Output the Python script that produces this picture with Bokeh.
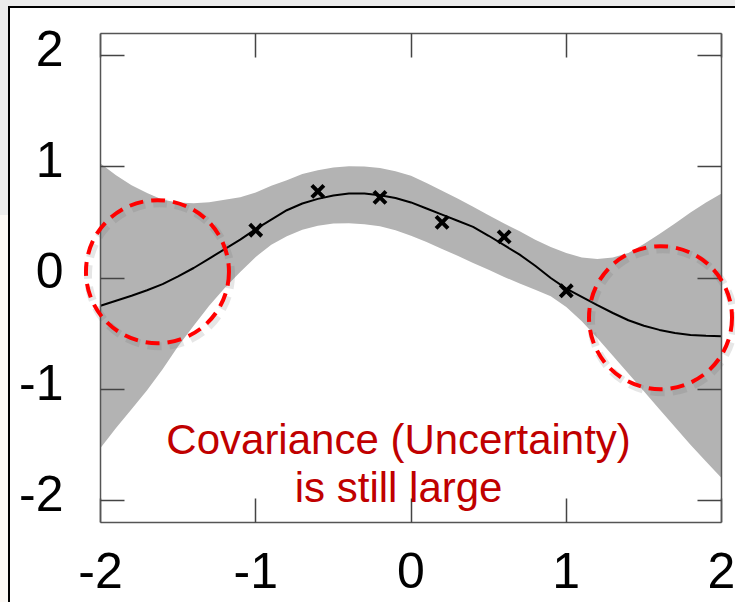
import numpy as np
from bokeh.plotting import figure
from bokeh.models import FixedTicker, LinearAxis, Label, Range1d
from bokeh.embed import file_html
from bokeh.resources import INLINE

# ---- data ----
x_grid = [-2.0, -1.9, -1.8, -1.7, -1.6, -1.5, -1.4, -1.3, -1.2, -1.1, -1.0,
          -0.9, -0.8, -0.7, -0.6, -0.5, -0.4, -0.3, -0.2, -0.1, 0.0,
          0.1, 0.2, 0.3, 0.4, 0.5, 0.6, 0.7, 0.8, 0.9, 1.0,
          1.1, 1.2, 1.3, 1.4, 1.5, 1.6, 1.7, 1.8, 1.9, 2.0]
mean = [-0.25, -0.205, -0.16, -0.11, -0.055, 0.015, 0.09, 0.175, 0.26, 0.345, 0.44,
        0.525, 0.61, 0.67, 0.712, 0.743, 0.76, 0.76, 0.745, 0.72, 0.68,
        0.625, 0.57, 0.515, 0.46, 0.38, 0.295, 0.21, 0.11, 0.0, -0.095,
        -0.17, -0.245, -0.315, -0.38, -0.43, -0.467, -0.495, -0.512, -0.52, -0.524]
upper = [1.03, 0.925, 0.835, 0.765, 0.705, 0.68, 0.672, 0.682, 0.705, 0.727, 0.77,
         0.83, 0.88, 0.935, 0.97, 0.995, 1.006, 1.003, 0.99, 0.96, 0.92,
         0.855, 0.785, 0.715, 0.64, 0.565, 0.49, 0.42, 0.345, 0.28, 0.225,
         0.185, 0.17, 0.185, 0.225, 0.305, 0.395, 0.49, 0.59, 0.68, 0.76]
lower = [-1.53, -1.35, -1.18, -1.01, -0.82, -0.615, -0.43, -0.25, -0.09, 0.055, 0.19,
         0.30, 0.375, 0.435, 0.47, 0.49, 0.493, 0.483, 0.465, 0.43, 0.38,
         0.325, 0.262, 0.20, 0.135, 0.075, 0.01, -0.05, -0.105, -0.165, -0.26,
         -0.39, -0.54, -0.70, -0.86, -1.02, -1.18, -1.34, -1.50, -1.65, -1.80]

obs_x = [-1.0, -0.6, -0.2, 0.2, 0.6, 1.0]
obs_y = [0.43, 0.78, 0.725, 0.50, 0.37, -0.115]

x_ticks = [-2, -1, 0, 1, 2]
y_ticks = [-2, -1, 0, 1, 2]
tick_text = {-2: "-2", -1: "-1", 0: "0", 1: "1", 2: "2"}

note_line1 = "Covariance (Uncertainty)"
note_line2 = "is still large"

# highlighted regions (data units): centre x, centre y
circle_x = [-1.633, 1.607]
circle_y = [0.057, -0.357]
circle_r_px = 71.5

# ---- figure ----
W, H = 735, 602
bg = ("linear-gradient(#000,#000) 8px 6px / 727px 2px no-repeat, "
      "linear-gradient(#000,#000) 8px 6px / 2px 596px no-repeat, "
      "linear-gradient(#fff,#fff) 10px 8px / 725px 594px no-repeat, "
      "linear-gradient(to bottom, #ececec 215px, #fcf9f5 215px)")

# the plotting area reaches a little past x = -2 and x = 2 so that the
# dashed circles may spill over the drawn frame as in the reference
p = figure(width=W, height=H, output_backend="svg", toolbar_location=None,
           x_range=Range1d(-2.103, 2.090), y_range=Range1d(-2.2, 2.2),
           min_border_left=84, min_border_right=0, min_border_top=33,
           min_border_bottom=80, title=None)
p.styles = {"background": bg}
p.border_fill_color = None
p.background_fill_color = None
p.outline_line_color = None
p.grid.visible = False
# labels of the y axis sit slightly high in the reference (font metrics)
p.extra_y_ranges = {"labels": Range1d(-2.2 - 0.063, 2.2 - 0.063)}

tick_font = "Liberation Sans"
frame_col = "#555555"


def style_ticks(ax):
    ax.major_tick_in = 24
    ax.major_tick_out = 0
    ax.minor_tick_line_color = None
    ax.major_tick_line_color = "#444444"
    ax.major_tick_line_width = 1.5
    ax.axis_line_color = frame_col
    ax.axis_line_width = 1.5


# bottom axis: ticks, frame line and labels
xb = p.xaxis[0]
xb.ticker = FixedTicker(ticks=x_ticks)
xb.bounds = (-2, 2)
style_ticks(xb)
xb.major_label_text_font = tick_font
xb.major_label_text_font_size = "50px"
xb.major_label_text_color = "black"
xb.major_label_overrides = dict(tick_text)
xb.major_label_standoff = 30

# left axis at the frame edge: labels only
yl = p.yaxis[0]
yl.y_range_name = "labels"
yl.ticker = FixedTicker(ticks=y_ticks)
yl.major_tick_line_color = None
yl.minor_tick_line_color = None
yl.axis_line_color = None
yl.major_tick_in = 0
yl.major_tick_out = 0
yl.major_label_text_font = tick_font
yl.major_label_text_font_size = "50px"
yl.major_label_text_color = "black"
yl.major_label_overrides = dict(tick_text)
yl.major_label_standoff = 21

# frame lines with inward ticks at x = -2, x = 2 and on top
left_ax = LinearAxis(ticker=FixedTicker(ticks=y_ticks), fixed_location=-2)
top_ax = LinearAxis(ticker=FixedTicker(ticks=x_ticks), bounds=(-2, 2))
right_ax = LinearAxis(ticker=FixedTicker(ticks=y_ticks), fixed_location=2)
for ax in [left_ax, top_ax, right_ax]:
    style_ticks(ax)
    ax.major_label_overrides = {t: "" for t in x_ticks}
    ax.major_label_standoff = 0
p.add_layout(left_ax, "left")
p.add_layout(top_ax, "above")
p.add_layout(right_ax, "right")

# band + mean + observations
p.varea(x=x_grid, y1=lower, y2=upper, fill_color="#b3b3b3")
p.line(x=x_grid, y=mean, line_color="black", line_width=2)
p.scatter(x=obs_x, y=obs_y, marker="x", size=17, line_color="black", line_width=4)

# dashed circles with a soft shadow
x_px = 155.25
y_px = 489 / 4.4
shadow_x = [c + 2.0 / x_px for c in circle_x]
shadow_y = [c - 3.0 / y_px for c in circle_y]
p.circle(x=shadow_x, y=shadow_y, radius=circle_r_px, radius_units="screen",
         fill_color=None, line_color="#666666", line_alpha=0.16,
         line_width=8, line_dash="14 8", level="overlay")
p.circle(x=circle_x, y=circle_y, radius=circle_r_px, radius_units="screen",
         fill_color=None, line_color="#ff0000", line_width=4,
         line_dash="14 8", level="overlay")

# note text
note_x = -0.08
for txt, yb in [(note_line1, -1.451), (note_line2, -1.883)]:
    p.add_layout(Label(x=note_x, y=yb, text=txt, text_align="center",
                       text_baseline="alphabetic", text_font="Liberation Sans",
                       text_font_size="42px", text_color="#c00000"))

open("out.html", "w").write(file_html(p, INLINE))
